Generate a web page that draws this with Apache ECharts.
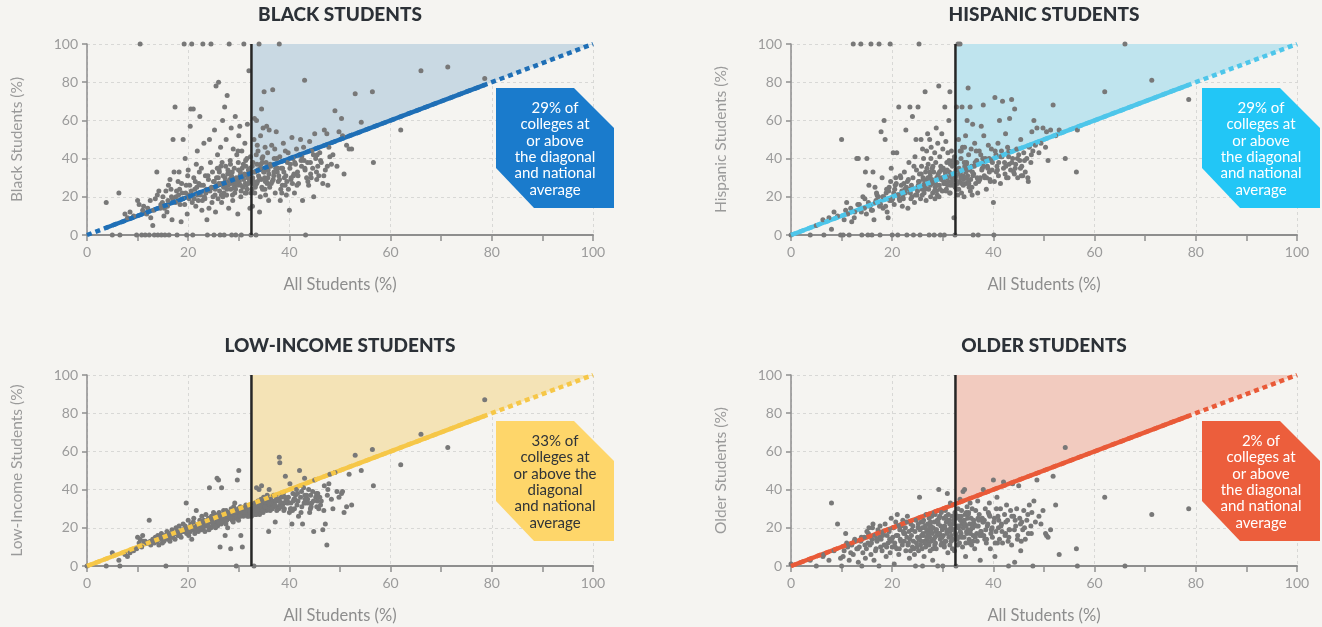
<!DOCTYPE html>
<html><head><meta charset="utf-8">
<script src="https://cdn.jsdelivr.net/npm/echarts@6/dist/echarts.min.js"></script>
<style>html,body{margin:0;padding:0;background:#f5f4f1}#c{width:1322px;height:627px}</style>
</head><body><div id="c"></div>
<script>
// Each index is one college: share of all students (x) and of each group (y)
const allStudents = [
0,3.8,5,6.3,6.5,7.5,8,8.5,9.2,9.8,
10,10.3,10.5,10.8,11,11.5,12,12.3,12.6,13,
13.3,13.5,13.8,14,14.2,14.5,14.7,14.9,15,15.2,
15.4,15.6,15.8,16,16.2,16.4,16.6,16.8,17,17.2,
17.4,17.6,17.8,18,18.2,18.4,18.6,18.8,19,19.2,
19.4,19.6,19.7,19.8,20,20.1,20.2,20.4,20.5,20.7,
20.9,21,21.1,21.3,21.5,21.6,21.8,22,22.1,22.3,
22.4,22.6,22.7,22.9,23,23.1,23.3,23.4,23.5,23.7,
23.8,24,24.1,24.2,24.4,24.5,24.6,24.7,24.8,25,
25.1,25.2,25.3,25.4,25.5,25.6,25.7,25.8,25.9,26,
26.1,26.2,26.3,26.4,26.5,26.6,26.7,26.8,26.9,27,
27.1,27.2,27.3,27.4,27.5,27.6,27.7,27.8,27.9,28,
28.1,28.2,28.3,28.4,28.5,28.6,28.7,28.8,28.9,29,
29.1,29.2,29.3,29.4,29.5,29.6,29.7,29.8,29.9,30,
30.1,30.2,30.3,30.4,30.5,30.6,30.7,30.8,30.9,31,
31.1,31.2,31.3,31.4,31.5,31.6,31.7,31.8,31.9,32,
32.1,32.2,32.3,32.4,32.5,32.6,32.7,32.8,32.9,33,
33.1,33.2,33.3,33.4,33.5,33.6,33.7,33.8,33.9,34,
34.1,34.2,34.3,34.4,34.5,34.6,34.7,34.8,34.9,35,
35.1,35.2,35.3,35.4,35.5,35.6,35.7,35.8,35.9,36,
36.1,36.3,36.5,36.7,36.9,37,37.2,37.4,37.6,37.8,
38,38.1,38.2,38.4,38.6,38.8,39,39.2,39.4,39.6,
39.8,40,40.1,40.3,40.5,40.7,40.9,41,41.2,41.4,
41.6,41.8,42,42.2,42.4,42.6,42.8,43,43.2,43.4,
43.6,43.8,44,44.2,44.4,44.6,44.8,45,45.2,45.4,
45.6,45.8,46,46.3,46.6,46.9,47.1,47.4,47.6,47.8,
48,48.3,48.6,49,49.4,49.8,50.3,50.8,51.3,51.8,
52.3,53,54.2,56.4,56.6,62,66,71.3,78.6,50.5,
22.5,23.2,23.9,24.3,25.15,25.75,26.55,27.25,27.65,28.45,
28.55,29.05,29.45,29.95,30.45,30.95,31.45,31.95,32.45,32.95,
33.15,33.55,34.05,34.55,35.05,35.45,36.2,36.8,37.3,37.9,
38.3,38.9,39.5,40.2,40.8,41.5,42.3,43.1,44.3,45.5,
15.9,16.7,17.5,18.3,18.9,19.5,20.3,20.8,21.4,21.9,
24.9,26.15,27.45,28.65,29.65,30.65,31.65,33.45,34.65,35.75,
25.35,25.95,26.45,27.05,27.55,28.05,28.75,29.25,29.85,30.35,
30.85,31.35,31.85,32.25,32.75,33.25,33.75,34.25,34.75,35.25,
35.85,36.4,36.95,37.5,38.05,38.65,39.15,39.75,40.35,41.05,
41.7,42.45,43.05,43.65,44.15,44.75,45.35,46.15,46.8,47.5,
18.1,18.7,19.3,19.9,20.6,21.2,21.7,22.2,22.8,23.6,
11.2,11.8,12.5,13.2,13.9,14.6,15.3,16.1,16.9,17.7,
26.05,26.85,27.85,28.35,29.35,30.25,31.25,32.15,32.65,33.65,
34.35,35.15,35.95,36.6,37.1,37.7,38.5,39.3,40.6,42.9
];
const black = [
null,17,0,22,0,11,9,12,10,0,
18,16,100,0,13,0,14,0,9,5,
0,19,33,0,23,14,0,17,20,10,
0,23,12,18,0,29,24,8,50,33,
67,20,0,28,33,16,7,22,50,100,
40,26,0,11,34,21,19,57,66,100,
0,66,30,24,15,37,44,18,27,62,
21,35,13,100,26,48,19,31,22,8,
0,29,14,50,38,100,25,17,33,28,
0,55,21,12,78,30,26,42,19,80,
34,23,0,46,27,17,38,60,31,25,
0,67,28,36,50,21,73,32,26,14,
100,29,39,24,56,0,33,18,45,27,
35,22,62,0,30,42,26,11,38,52,
28,57,33,20,0,44,31,25,37,100,
32,48,27,36,22,40,58,30,34,86,
29,14,41,0,33,24,15,38,27,50,
61,33,26,0,60,37,28,44,31,100,
12,35,52,29,66,40,24,56,33,75,
30,46,21,38,57,27,43,34,18,55,
25,36,47,76,31,40,22,54,33,28,
100,41,18,35,26,48,30,44,21,38,
24,13,35,29,51,40,32,22,37,45,
33,27,42,50,36,18,46,81,0,30,
38,26,49,32,44,35,20,53,40,29,
36,31,43,38,27,55,34,53,26,46,
41,37,42,65,36,54,61,32,47,45,
45,74,59,75,38,55,86,88,82,52,
26,20,31,23,28,35,21,30,24,27,
31,25,28,34,23,29,26,32,22,28,
22,27,30,25,33,28,37,29,35,31,
24,33,28,37,31,26,39,34,30,42,
15,20,17,24,19,22,26,17,28,21,
20,33,25,30,27,35,24,42,38,30,
24,30,36,22,27,33,21,29,44,26,
31,39,27,35,30,25,34,20,41,28,
36,27,33,40,29,35,26,43,30,38,
31,41,35,28,38,42,33,39,31,36,
21,27,16,31,23,19,25,33,18,24,
15,11,18,13,21,16,14,26,19,23,
27,20,34,37,24,31,22,28,36,47,
37,24,32,28,45,35,22,31,27,39
];
const hispanic = [
0,0,5,8,0,9,3,12,10,0,
50,0,8,13,17,0,7,100,12,40,
40,16,100,0,20,14,33,11,40,0,
26,15,100,0,33,8,25,18,21,20,
100,0,54,30,14,60,50,22,12,9,
25,100,28,35,0,19,43,16,24,30,
43,21,0,67,18,31,26,15,20,27,
33,22,55,0,28,14,38,24,67,19,
26,62,30,0,17,41,21,50,34,23,
67,28,100,32,0,19,50,36,24,45,
30,40,22,27,75,33,18,44,29,53,
37,24,0,50,31,20,46,27,35,22,
28,33,0,43,25,38,56,30,21,48,
32,78,26,41,0,36,29,53,23,45,
35,27,0,67,31,49,24,38,30,43,
28,60,33,75,37,26,44,30,36,39,
32,9,41,0,29,34,67,38,27,100,
50,35,28,100,33,40,22,67,46,31,
29,20,46,35,52,27,38,60,31,77,
42,25,34,67,29,45,36,21,58,0,
32,48,27,39,22,0,44,30,57,35,
68,52,31,40,24,36,47,33,28,45,
38,17,0,72,42,36,48,31,60,27,
44,70,35,38,53,30,46,41,61,34,
71,40,33,66,37,45,30,42,39,50,
36,31,43,33,40,28,46,38,54,44,
60,47,56,43,48,56,46,39,55,68,
52,55,40,33,55,75,100,81,71,54,
24,29,20,36,26,32,25,28,40,19,
27,31,24,29,33,26,22,31,25,21,
24,30,26,33,28,23,36,30,29,40,
30,35,39,28,34,41,32,37,35,31,
13,17,15,20,24,18,22,27,19,23,
21,29,33,26,34,23,31,44,37,25,
28,21,24,30,26,36,23,20,30,27,
34,22,28,37,24,32,27,38,30,35,
33,38,29,42,36,30,40,34,44,38,
41,36,44,38,32,40,35,39,30,42,
20,15,23,18,26,21,30,19,25,22,
11,14,9,16,12,19,17,13,22,16,
25,35,29,23,33,28,39,26,31,44,
36,27,31,44,28,34,39,29,33,30
];
const lowIncome = [
0,0,7,3,0,6,5,7,8,9,
15,12,14,10,16,13,12,24,11,14,
12,15,13,16,11,14,17,12,15,13,
16,0,18,14,17,13,15,19,16,17,
14,20,18,16,21,17,15,19,22,18,
21,33,17,19,24,16,20,18,22,14,
19,23,25,17,20,29,21,18,22,24,
21,19,26,22,20,24,18,23,27,21,
22,25,19,41,23,20,26,24,21,28,
24,22,27,20,25,23,46,21,26,45,
28,24,10,26,22,41,25,27,23,29,
26,23,16,27,29,24,25,20,28,26,
28,25,27,9,30,26,24,29,23,31,
27,33,25,29,0,28,45,26,30,50,
29,26,31,16,28,27,10,30,26,29,
30,28,27,32,29,31,26,28,30,27,
29,28,31,30,26,32,27,30,29,0,
31,33,29,32,41,30,28,34,31,40,
27,33,30,35,42,29,31,28,36,34,
33,30,35,32,29,37,31,34,18,40,
32,35,30,34,37,33,23,36,31,34,
57,54,32,36,33,38,30,47,35,34,
36,28,43,33,22,38,35,30,37,40,
38,26,50,36,39,22,41,46,33,37,
35,40,28,37,33,39,18,45,36,31,
38,30,36,34,19,42,22,11,40,43,
48,35,30,49,39,36,38,28,31,48,
32,58,50,61,42,53,69,62,87,39,
20,22,21,23,24,22,25,24,27,26,
25,27,26,24,28,27,29,26,28,30,
29,30,28,31,33,30,29,32,34,30,
31,29,33,30,34,32,28,35,31,34,
15,16,17,16,18,19,18,20,19,21,
23,25,22,27,25,28,30,27,33,35,
21,24,23,25,24,26,25,27,26,27,
28,27,29,28,31,27,32,30,29,31,
30,33,31,29,34,32,36,33,30,35,
34,31,37,33,30,34,38,32,29,37,
17,18,19,18,19,20,21,20,21,22,
13,12,13,14,13,15,14,16,15,17,
23,25,26,25,28,26,28,29,27,29,
32,31,33,30,32,35,31,34,29,33
];
const older = [
1,3,0,5,6,3,33,8,22,4,
0,5,8,17,12,3,11,6,14,9,
2,10,13,0,7,15,4,9,18,12,
20,11,6,14,22,3,16,9,13,19,
0,21,14,8,17,11,22,5,16,12,
18,7,13,25,10,15,20,1,12,23,
9,27,16,6,19,14,21,11,24,17,
13,20,8,15,26,11,18,4,14,22,
16,10,21,13,6,18,0,24,12,15,
20,8,14,36,19,11,23,16,9,0,
17,24,5,13,21,10,27,18,14,22,
12,19,25,15,8,21,13,26,17,3,
20,14,23,11,27,18,9,16,24,0,
22,40,17,26,14,21,28,12,19,0,
16,25,10,20,29,13,23,18,38,7,
27,15,24,11,33,20,16,26,9,22,
19,23,8,28,17,0,25,14,21,30,
20,26,12,35,24,17,29,22,10,39,
23,15,40,27,5,21,18,31,25,19,
28,14,22,33,19,25,11,30,20,16,
24,9,29,17,34,21,27,3,18,25,
40,16,24,30,12,21,28,33,9,19,
15,45,23,5,18,36,26,20,14,30,
22,12,44,27,17,32,24,0,19,29,
11,43,26,2,21,30,16,42,25,8,
23,19,29,14,24,17,32,21,28,0,
34,23,45,26,22,29,17,15,19,47,
32,6,62,9,0,36,0,27,30,16,
17,12,19,9,22,13,20,11,18,15,
12,23,16,20,13,24,18,14,27,11,
15,24,20,12,27,17,22,13,16,23,
14,22,17,25,12,21,16,19,24,13,
12,8,15,18,10,14,20,16,9,22,
10,16,21,19,11,26,13,18,28,22,
14,20,12,17,23,9,19,25,15,21,
17,22,14,19,26,21,15,24,17,12,
20,15,25,18,23,14,27,20,12,24,
18,23,15,26,19,14,22,20,27,17,
16,11,19,14,10,21,13,18,23,8,
10,7,13,9,15,11,17,20,14,10,
23,15,20,28,17,11,19,24,16,26,
22,18,13,21,24,16,19,26,30,13
];
const nationalAverage = 32.5;   // all-students share, vertical reference line
const groupSeries = [black, hispanic, lowIncome, older];
const panelTitles = ['BLACK STUDENTS', 'HISPANIC STUDENTS', 'LOW-INCOME STUDENTS', 'OLDER STUDENTS'];
const yAxisNames = ['Black Students (%)', 'Hispanic Students (%)', 'Low-Income Students (%)', 'Older Students (%)'];
const xAxisName = 'All Students (%)';
const boxTexts = [
  '29% of\ncolleges at\nor above\nthe diagonal\nand national\naverage',
  '29% of\ncolleges at\nor above\nthe diagonal\nand national\naverage',
  '33% of\ncolleges at\nor above the\ndiagonal\nand national\naverage',
  '2% of\ncolleges at\nor above\nthe diagonal\nand national\naverage'
];

// styling / layout
const FONT = 'Lato, "Open Sans", sans-serif';
const styles = [
  {line: '#1f6fb6', area: '#c9d9e3', box: '#1a7bcc', text: '#ffffff'},
  {line: '#4ec6ea', area: '#bfe4ee', box: '#22c6f6', text: '#ffffff'},
  {line: '#f6c748', area: '#f4e3b6', box: '#fed66a', text: '#2f3338'},
  {line: '#e95a38', area: '#f2cbbf', box: '#ec5e3c', text: '#ffffff'}
];
const layout = [
  {left: 87, top: 44, box: [496, 88]},
  {left: 791, top: 44, box: [1202, 88]},
  {left: 87, top: 375, box: [496, 421]},
  {left: 791, top: 375, box: [1202, 421]}
];
const GW = 506, GH = 191;

const grids = [], xAxes = [], yAxes = [], series = [], graphics = [];
const axisGray = '#8e8e8e';

layout.forEach((L, i) => {
  const st = styles[i];
  grids.push({left: L.left, top: L.top, width: GW, height: GH, outerBoundsMode: 'none', containLabel: false});
  xAxes.push({
    gridIndex: i, type: 'value', min: 0, max: 100, interval: 20,
    axisLine: {show: true, lineStyle: {color: axisGray, width: 2}},
    axisTick: {show: true, length: 6, lineStyle: {color: axisGray, width: 1.5}},
    minorTick: {show: true, splitNumber: 2, length: 6, lineStyle: {color: axisGray, width: 1.5}},
    axisLabel: {color: '#9b9b9b', fontSize: 14, margin: 10, fontFamily: FONT},
    splitLine: {show: true, lineStyle: {color: '#d8d8d6', type: [3, 3], width: 1}},
    name: xAxisName, nameLocation: 'middle', nameGap: 41,
    nameTextStyle: {color: '#8d8d8d', fontSize: 16.5, fontFamily: FONT}
  });
  yAxes.push({
    gridIndex: i, type: 'value', min: 0, max: 100, interval: 20,
    axisLine: {show: true, lineStyle: {color: axisGray, width: 1.5}},
    axisTick: {show: true, length: 5, lineStyle: {color: axisGray, width: 1.5}},
    axisLabel: {color: '#9b9b9b', fontSize: 14, margin: 9, fontFamily: FONT},
    splitLine: {show: true, lineStyle: {color: '#d8d8d6', type: [3, 3], width: 1}},
    name: yAxisNames[i], nameLocation: 'middle', nameGap: 62, nameRotate: 90,
    nameTextStyle: {color: '#9a9a9a', fontSize: 15.5, fontFamily: FONT}
  });

  const ys = groupSeries[i];
  const pts = [];
  allStudents.forEach((x, j) => { if (ys[j] !== null && ys[j] !== undefined) pts.push([x, ys[j]]); });
  const xs = pts.map(p => p[0]);
  const minX = Math.min(...xs), maxX = Math.max(...xs);

  // shaded region above diagonal and right of national average
  series.push({
    type: 'custom', xAxisIndex: i, yAxisIndex: i, silent: true, z: 1,
    data: [[nationalAverage, 100]],
    renderItem: (params, api) => {
      const a = api.coord([nationalAverage, nationalAverage]);
      const b = api.coord([nationalAverage, 100]);
      const c = api.coord([100, 100]);
      return {type: 'polygon', shape: {points: [a, b, c]}, style: {fill: st.area}};
    }
  });
  // diagonal: solid over the data range (under the dots), dotted over full range (above the dots)
  const diagBase = {type: 'line', xAxisIndex: i, yAxisIndex: i, symbol: 'none', silent: true, animation: false};
  series.push(Object.assign({}, diagBase, {z: 2, data: [[minX, minX], [maxX, maxX]], lineStyle: {color: st.line, width: 4.5, cap: 'butt'}}));
  // colleges
  series.push({
    type: 'scatter', xAxisIndex: i, yAxisIndex: i, data: pts, symbolSize: 5, z: 3,
    itemStyle: {color: '#787878', opacity: 1}, animation: false
  });
  series.push(Object.assign({}, diagBase, {z: 4, data: [[0, 0], [100, 100]], lineStyle: {color: st.line, width: 4.5, type: [5, 4], cap: 'butt'}}));
  // national average line
  series.push(Object.assign({}, diagBase, {z: 5, data: [[nationalAverage, 0], [nationalAverage, 100]], lineStyle: {color: '#262626', width: 2.5}}));

  // title
  graphics.push({
    type: 'text', x: L.left + GW / 2, y: L.top - 29, z: 100,
    style: {text: panelTitles[i], font: '900 19px ' + FONT, fill: '#2c3137', textAlign: 'center', textVerticalAlign: 'middle'}
  });
  // callout box
  const [bx, by] = L.box;
  graphics.push({
    type: 'polygon', silent: true, z: 100,
    shape: {points: [[bx, by], [bx + 78, by], [bx + 118, by + 40], [bx + 118, by + 120], [bx + 38, by + 120], [bx, by + 80]]},
    style: {fill: st.box}
  });
  graphics.push({
    type: 'text', x: bx + 59, y: by + 61, z: 101,
    style: {text: boxTexts[i], font: '15px ' + FONT, fill: st.text, textAlign: 'center', textVerticalAlign: 'middle', lineHeight: 16.3}
  });
});

const chart = echarts.init(document.getElementById('c'), null, {renderer: 'canvas'});
chart.setOption({
  backgroundColor: '#f5f4f1',
  animation: false,
  grid: grids, xAxis: xAxes, yAxis: yAxes, series: series,
  graphic: {elements: graphics}
});
</script></body></html>
